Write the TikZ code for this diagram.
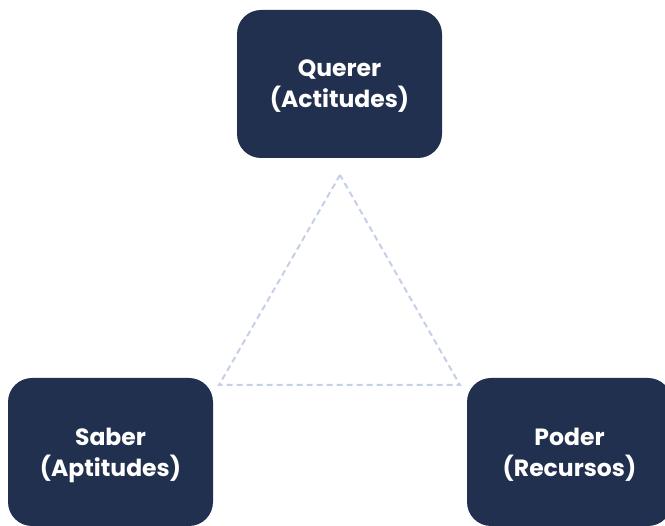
\documentclass[tikz,border=0pt]{standalone}
\usepackage{fontspec}
\setmainfont{Poppins}
\definecolor{navy}{HTML}{22304F}
\definecolor{lav}{HTML}{C5CFE6}
\begin{document}
\begin{tikzpicture}[x=1pt,y=-1pt,
  box/.style={fill=navy,rounded corners=24pt,minimum width=205pt,minimum height=148pt,
    text=white,align=center,font=\fontsize{23.5}{31}\selectfont\bfseries,inner sep=0pt,
    text depth=-3pt},
  tri/.style={draw=lav,line width=2pt,dash pattern=on 6pt off 4pt}]
\useasboundingbox (0,0) rectangle (665,526);
\clip (0,0) rectangle (665,526);
\node[box] (q) at (339.5,84) {Querer\\(Actitudes)};
\node[box] (s) at (110.5,452) {Saber\\(Aptitudes)};
\node[box] (p) at (569.5,452) {Poder\\(Recursos)};
\coordinate (ta) at (340,175);
\coordinate (tl) at (219,385);
\coordinate (tr) at (460,385);
\draw[tri] (ta) -- (tl) -- (tr) -- cycle;
\end{tikzpicture}
\end{document}
